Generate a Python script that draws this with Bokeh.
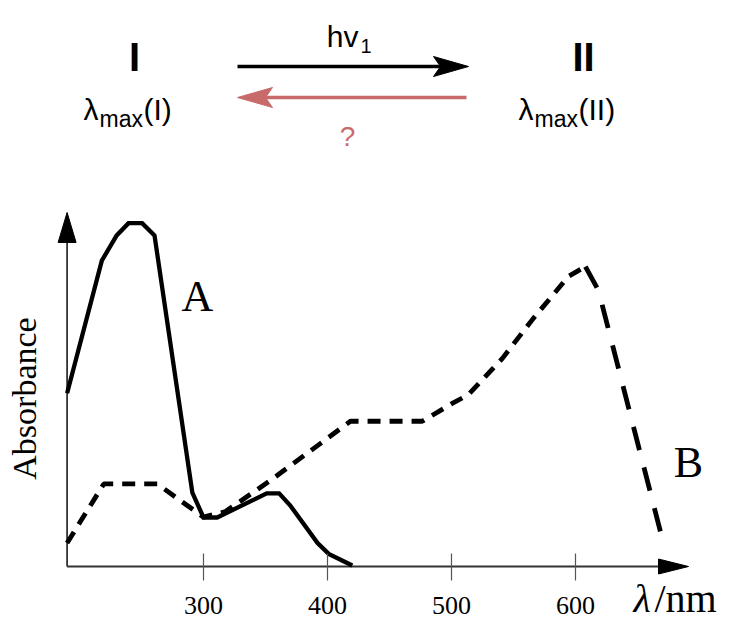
from bokeh.plotting import figure
from bokeh.models import Label, Range1d, FixedTicker, LinearAxis
from bokeh.embed import file_html
from bokeh.resources import INLINE

# ---------------- data ----------------
wavelength_A = [190, 218, 230, 239.5, 250.5, 260.5, 291, 300, 311, 351, 361, 370, 392, 401, 420]
absorb_A = [0.495, 0.874, 0.946, 0.981, 0.981, 0.946, 0.211, 0.14, 0.14, 0.209, 0.209, 0.174, 0.067, 0.036, 0.003]

wavelength_B_rise = [190, 219.6, 262.7, 300, 317.7, 354, 418.5, 476.4, 500.6, 513.7, 540.9, 566, 594.4, 608]
absorb_B_rise = [0.067, 0.236, 0.236, 0.141, 0.157, 0.246, 0.415, 0.415, 0.466, 0.491, 0.594, 0.709, 0.829, 0.857]
wavelength_B_fall = [608, 618.5, 671]
absorb_B_fall = [0.857, 0.789, 0.065]

tick_values = [300, 400, 500, 600]
tick_labels = ["300", "400", "500", "600"]

# ---------------- layout helpers (picture pixels -> data units) ----------------
PX_PER_NM = 1.24
PX_PER_ABS = 350.0
def nx(px):
    return 300 + (px - 203) / PX_PER_NM
def ay(py):
    return (566 - py) / PX_PER_ABS

W, H = 724, 623
p = figure(width=W, height=H, x_range=Range1d(nx(0), nx(W)), y_range=Range1d(ay(H), ay(0)),
           output_backend="svg", toolbar_location=None, x_axis_location=None, y_axis_location=None,
           min_border=0, outline_line_color=None, background_fill_color="white")
p.xgrid.grid_line_color = None
p.ygrid.grid_line_color = None

# x axis with ticks (line drawn separately as arrow)
xaxis = LinearAxis(fixed_location=0, ticker=FixedTicker(ticks=tick_values),
                   major_label_overrides={v: t for v, t in zip(tick_values, tick_labels)})
xaxis.axis_line_color = None
xaxis.major_tick_in = 13
xaxis.major_tick_out = 14
xaxis.major_tick_line_color = "#555555"
xaxis.major_tick_line_width = 1.2
xaxis.minor_tick_line_color = None
xaxis.major_label_text_font = "Liberation Serif"
xaxis.major_label_text_font_size = "26px"
xaxis.major_label_text_color = "black"
xaxis.major_label_standoff = 16
p.add_layout(xaxis, "below")

AX_COLOR = "#333333"
x_axis_start, x_axis_end = 190, nx(688)
y_axis_top = ay(212)
head_len_x = 30 / PX_PER_NM
head_half_y = 7.5 / PX_PER_ABS
p.line([x_axis_start, x_axis_end - head_len_x], [0, 0], line_color=AX_COLOR, line_width=1.8)
p.patch([x_axis_end, x_axis_end - head_len_x, x_axis_end - head_len_x],
        [0, head_half_y, -head_half_y], color="black")
head_len_v = 30 / PX_PER_ABS
head_half_v = 9 / PX_PER_NM
p.line([x_axis_start, x_axis_start], [0, y_axis_top - head_len_v], line_color=AX_COLOR, line_width=1.8)
p.patch([x_axis_start, x_axis_start - head_half_v, x_axis_start + head_half_v],
        [y_axis_top, y_axis_top - head_len_v, y_axis_top - head_len_v], color="black")

# spectra
p.line(wavelength_A, absorb_A, line_color="black", line_width=4.3, line_join="miter")
p.line(wavelength_B_rise, absorb_B_rise, line_color="black", line_width=4.8, line_dash="13 9")
p.line(wavelength_B_fall, absorb_B_fall, line_color="black", line_width=4.8, line_dash="24 18")

SERIF = "Liberation Serif"
SANS = "Liberation Sans"
BASE_SHIFT = 0.37

def lab(px, py, text, size, font=SANS, color="black", align="left", style="normal", angle=0):
    # (px, py) is the intended baseline point in picture pixels
    if angle == 0:
        py = py - BASE_SHIFT * size
    else:
        px = px - BASE_SHIFT * size
    p.add_layout(Label(x=nx(px), y=ay(py), text=text, text_font=font, text_font_size=f"{size}px",
                       text_color=color, text_align=align, text_baseline="alphabetic",
                       text_font_style=style, angle=angle))

# curve labels
lab(197, 312, "A", 44, SERIF, align="center")
lab(688, 478, "B", 44, SERIF, align="center")
lab(37, 398, "Absorbance", 34, SERIF, align="center", angle=1.5708)
lab(633, 613, "λ", 40, SERIF, style="italic")
lab(654, 613, "/nm", 40, SERIF)

# ---------------- reaction scheme ----------------
RED = "#c86a6a"
lab(134, 71, "I", 40, SANS, align="center", style="bold")
lab(583, 71, "II", 40, SANS, align="center", style="bold")
lab(358, 47, "hv", 30, SANS, align="right")
lab(360, 53, "1", 20, SANS)
lab(347, 146, "?", 28, SANS, color=RED, align="center")

def lam_max(px_left, py, roman):
    lab(px_left, py, "λ", 30, SANS)
    lab(px_left + 16, py + 7, "max", 23, SANS)
    lab(px_left + 60, py, f"({roman})", 30, SANS)

lam_max(83, 120, "I")
lam_max(518, 120, "II")

def arrow(x_tail, x_tip, py, color):
    d = 1 if x_tip > x_tail else -1
    back = x_tip - d * 35
    notch = x_tip - d * 28
    p.line([nx(x_tail), nx(notch)], [ay(py), ay(py)], line_color=color, line_width=3.5)
    p.patch([nx(x_tip), nx(back), nx(notch), nx(back)],
            [ay(py), ay(py - 10), ay(py), ay(py + 10)], color=color)

arrow(237, 468, 66, "black")
arrow(466, 237, 97, RED)

open("out.html", "w").write(file_html(p, INLINE))
